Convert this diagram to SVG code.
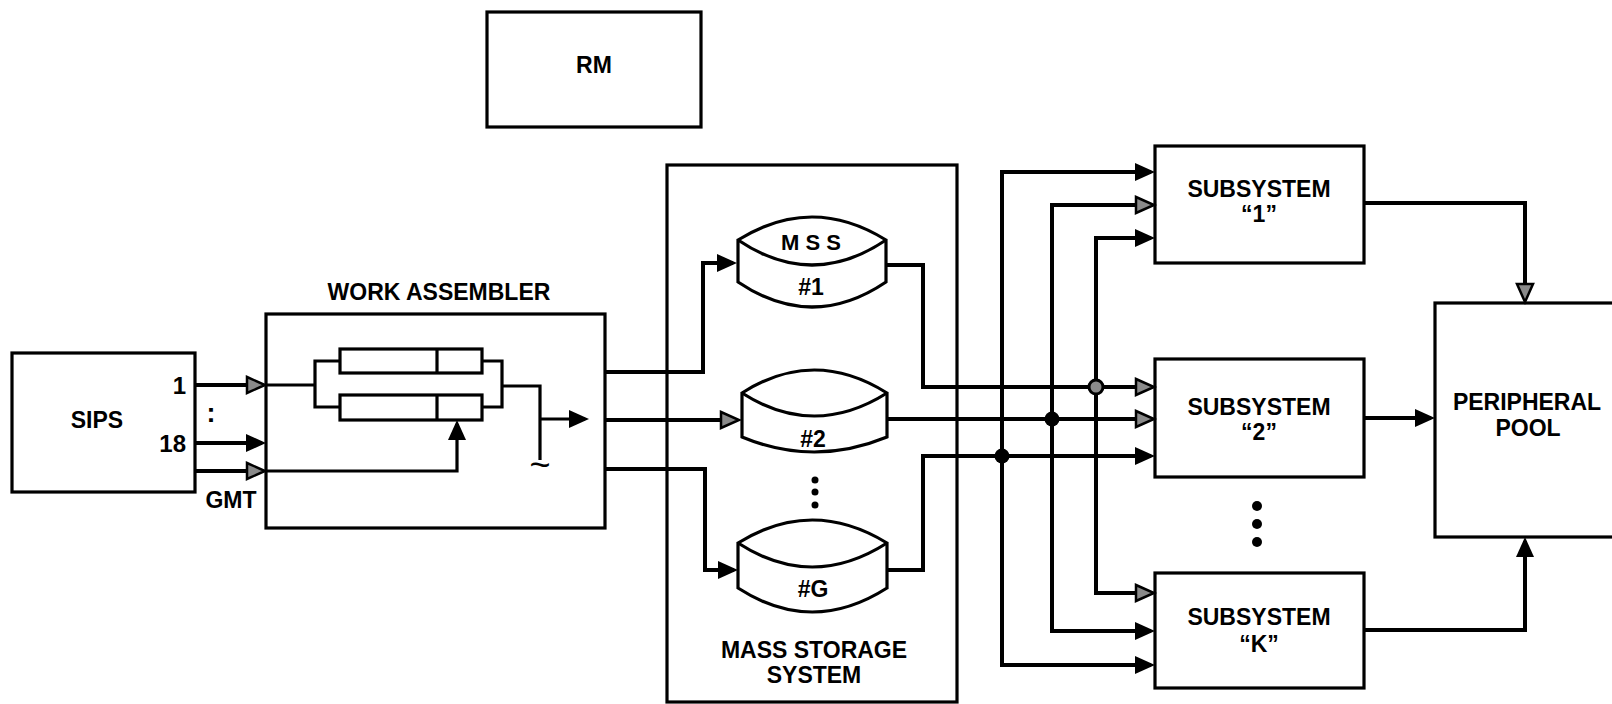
<svg xmlns="http://www.w3.org/2000/svg" width="1612" height="704" viewBox="0 0 1612 704">
<style>
.box{fill:#fff;stroke:#000;stroke-width:3.2}
.ln{fill:none;stroke:#000;stroke-width:4;stroke-linejoin:miter}
.thin{fill:none;stroke:#000;stroke-width:3.2}
.t{font-family:"Liberation Sans",Arial,Helvetica,sans-serif;font-weight:bold;font-size:23px;text-anchor:middle;fill:#000}
.dot{fill:#000}
</style>
<defs>
<marker id="arrS" markerUnits="userSpaceOnUse" markerWidth="24" markerHeight="22" refX="16" refY="9" orient="auto" overflow="visible"><path d="M0,0 L20,9 L0,18 z" fill="#000"/></marker>
<marker id="arrO" markerUnits="userSpaceOnUse" markerWidth="24" markerHeight="22" refX="16" refY="9" orient="auto" overflow="visible"><path d="M1,1 L19,9 L1,17 z" fill="#8a8a8a" stroke="#000" stroke-width="2.5"/></marker>
</defs>
<rect width="1612" height="704" fill="#fff"/>

<g id="rm"><rect class="box" x="487" y="12" width="214" height="115"/><text class="t" x="594" y="73">RM</text></g>

<g id="sips"><rect class="box" x="12" y="353" width="183" height="139"/>
<text class="t" x="97" y="428">SIPS</text>
<text class="t" x="186" y="394" style="text-anchor:end;font-size:24px">1</text>
<text class="t" x="186" y="452" style="text-anchor:end;font-size:24px">18</text>
<text class="t" x="211" y="422" style="font-size:27px">:</text>
<text class="t" x="231" y="508">GMT</text></g>

<g id="work-assembler"><rect class="box" x="266" y="314" width="339" height="214"/>
<text class="t" x="439" y="300">WORK ASSEMBLER</text>
<rect class="thin" x="340" y="349" width="142" height="24"/><line class="thin" x1="437" y1="349" x2="437" y2="373"/>
<rect class="thin" x="340" y="395" width="142" height="25"/><line class="thin" x1="437" y1="395" x2="437" y2="420"/>
<text class="t" x="540" y="477" style="font-size:36px;font-weight:normal">~</text></g>

<g id="mass-storage"><rect class="box" x="667" y="165" width="290" height="537"/>
<text class="t" x="814" y="658">MASS STORAGE</text><text class="t" x="814" y="683">SYSTEM</text>
<circle class="dot" cx="815" cy="480" r="3.5"/><circle class="dot" cx="815" cy="492" r="3.5"/><circle class="dot" cx="815" cy="505" r="3.5"/></g>

<g id="mss1"><path class="box" d="M738,240 Q812,194 886,240 V282 Q812,332 738,282 Z"/><path class="thin" d="M738,240 Q812,290 886,240"/>
<text class="t" x="811" y="250" style="font-size:22px">M S S</text><text class="t" x="811" y="295">#1</text></g>
<g id="mss2"><path class="box" d="M742,393 Q814,347 887,393 V437 Q814,467 742,437 Z"/><path class="thin" d="M742,393 Q814,439 887,393"/>
<text class="t" x="813" y="447">#2</text></g>
<g id="mssG"><path class="box" d="M738,543 Q812,497 887,543 V588 Q812,636 738,588 Z"/><path class="thin" d="M738,543 Q812,591 887,543"/>
<text class="t" x="813" y="597">#G</text></g>

<g id="sub1"><rect class="box" x="1155" y="146" width="209" height="117"/><text class="t" x="1259" y="197">SUBSYSTEM</text><text class="t" x="1259" y="222">“1”</text></g>
<g id="sub2"><rect class="box" x="1155" y="359" width="209" height="118"/><text class="t" x="1259" y="415">SUBSYSTEM</text><text class="t" x="1259" y="440">“2”</text></g>
<g id="subdots"><circle class="dot" cx="1257" cy="506" r="5"/><circle class="dot" cx="1257" cy="524" r="5"/><circle class="dot" cx="1257" cy="542" r="5"/></g>
<g id="subK"><rect class="box" x="1155" y="573" width="209" height="115"/><text class="t" x="1259" y="625">SUBSYSTEM</text><text class="t" x="1259" y="652">“K”</text></g>

<g id="peripheral-pool"><rect class="box" x="1435" y="303" width="200" height="234"/><text class="t" x="1527" y="410">PERIPHERAL</text><text class="t" x="1528" y="436">POOL</text></g>

<g id="connectors">
<path class="ln" d="M195,385 H262" marker-end="url(#arrO)"/>
<path class="ln" d="M195,443 H262" marker-end="url(#arrS)"/>
<path class="ln" d="M195,471 H262" marker-end="url(#arrO)"/>
<path class="thin" d="M266,385 H315"/>
<path class="thin" d="M340,361 H315 V407 H340"/>
<path class="thin" d="M482,361 H502 V407 H482"/>
<path class="thin" d="M502,386 H540 V460"/>
<path class="thin" d="M540,419 H585" marker-end="url(#arrS)"/>
<path class="thin" d="M266,471 H457 V424" marker-end="url(#arrS)"/>
<path class="ln" d="M605,372 H703 V263 H733" marker-end="url(#arrS)"/>
<path class="ln" d="M605,420 H736" marker-end="url(#arrO)"/>
<path class="ln" d="M605,469 H705 V570 H734" marker-end="url(#arrS)"/>
<path class="ln" d="M886,265 H923 V387 H1151" marker-end="url(#arrO)"/>
<path class="ln" d="M887,419 H1151" marker-end="url(#arrO)"/>
<path class="ln" d="M887,570 H923 V456 H1151" marker-end="url(#arrS)"/>
<path class="ln" d="M1002,456 V172 H1151" marker-end="url(#arrS)"/>
<path class="ln" d="M1002,456 V665 H1151" marker-end="url(#arrS)"/>
<path class="ln" d="M1052,419 V205 H1151" marker-end="url(#arrO)"/>
<path class="ln" d="M1052,419 V631 H1151" marker-end="url(#arrS)"/>
<path class="ln" d="M1096,387 V238 H1151" marker-end="url(#arrS)"/>
<path class="ln" d="M1096,387 V593 H1151" marker-end="url(#arrO)"/>
<path class="ln" d="M1364,203 H1525 V299" marker-end="url(#arrO)"/>
<path class="ln" d="M1364,418 H1431" marker-end="url(#arrS)"/>
<path class="ln" d="M1364,630 H1525 V541" marker-end="url(#arrS)"/>
<circle cx="1096" cy="387" r="7" fill="#8a8a8a" stroke="#000" stroke-width="3"/>
<circle cx="1052" cy="419" r="7.5" fill="#000"/>
<circle cx="1002" cy="456" r="7.5" fill="#000"/>
</g>
</svg>
